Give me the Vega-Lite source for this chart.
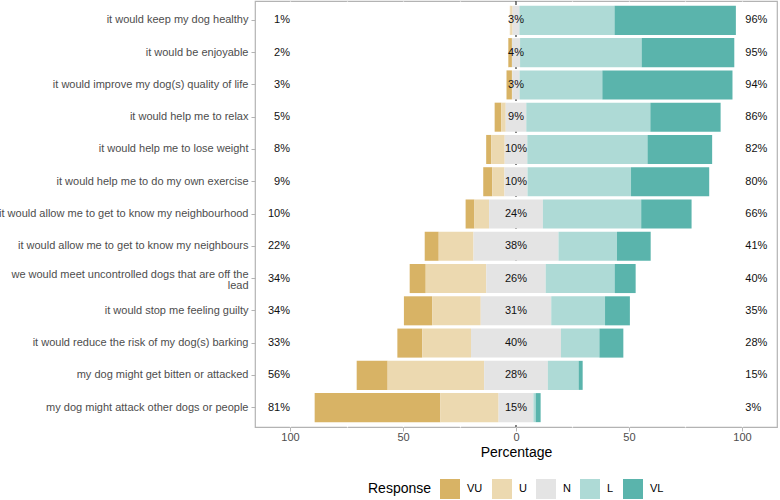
{
  "$schema": "https://vega.github.io/schema/vega-lite/v6.json",
  "width": 522,
  "height": 426,
  "autosize": {"type": "none"},
  "padding": {"left": 255, "top": 1, "right": 3, "bottom": 73},
  "background": "white",
  "data": {
    "values": [
      {"item": "it would keep my dog healthy", "response": "VU", "pct": 0.2},
      {"item": "it would keep my dog healthy", "response": "U", "pct": 1.0},
      {"item": "it would keep my dog healthy", "response": "N", "pct": 3.0},
      {"item": "it would keep my dog healthy", "response": "L", "pct": 42.1},
      {"item": "it would keep my dog healthy", "response": "VL", "pct": 53.7},
      {"item": "it would be enjoyable", "response": "VU", "pct": 1.6},
      {"item": "it would be enjoyable", "response": "U", "pct": 0.0},
      {"item": "it would be enjoyable", "response": "N", "pct": 3.6},
      {"item": "it would be enjoyable", "response": "L", "pct": 53.8},
      {"item": "it would be enjoyable", "response": "VL", "pct": 41.0},
      {"item": "it would improve my dog(s) quality of life", "response": "VU", "pct": 2.4},
      {"item": "it would improve my dog(s) quality of life", "response": "U", "pct": 0.2},
      {"item": "it would improve my dog(s) quality of life", "response": "N", "pct": 3.2},
      {"item": "it would improve my dog(s) quality of life", "response": "L", "pct": 36.6},
      {"item": "it would improve my dog(s) quality of life", "response": "VL", "pct": 57.6},
      {"item": "it would help me to relax", "response": "VU", "pct": 2.9},
      {"item": "it would help me to relax", "response": "U", "pct": 2.0},
      {"item": "it would help me to relax", "response": "N", "pct": 9.1},
      {"item": "it would help me to relax", "response": "L", "pct": 54.9},
      {"item": "it would help me to relax", "response": "VL", "pct": 31.1},
      {"item": "it would help me to lose weight", "response": "VU", "pct": 2.2},
      {"item": "it would help me to lose weight", "response": "U", "pct": 6.0},
      {"item": "it would help me to lose weight", "response": "N", "pct": 10.0},
      {"item": "it would help me to lose weight", "response": "L", "pct": 53.2},
      {"item": "it would help me to lose weight", "response": "VL", "pct": 28.6},
      {"item": "it would help me to do my own exercise", "response": "VU", "pct": 4.0},
      {"item": "it would help me to do my own exercise", "response": "U", "pct": 5.4},
      {"item": "it would help me to do my own exercise", "response": "N", "pct": 10.2},
      {"item": "it would help me to do my own exercise", "response": "L", "pct": 45.8},
      {"item": "it would help me to do my own exercise", "response": "VL", "pct": 34.6},
      {"item": "it would allow me to get to know my neighbourhood", "response": "VU", "pct": 3.9},
      {"item": "it would allow me to get to know my neighbourhood", "response": "U", "pct": 6.5},
      {"item": "it would allow me to get to know my neighbourhood", "response": "N", "pct": 23.8},
      {"item": "it would allow me to get to know my neighbourhood", "response": "L", "pct": 43.5},
      {"item": "it would allow me to get to know my neighbourhood", "response": "VL", "pct": 22.3},
      {"item": "it would allow me to get to know my neighbours", "response": "VU", "pct": 6.2},
      {"item": "it would allow me to get to know my neighbours", "response": "U", "pct": 15.4},
      {"item": "it would allow me to get to know my neighbours", "response": "N", "pct": 37.6},
      {"item": "it would allow me to get to know my neighbours", "response": "L", "pct": 25.9},
      {"item": "it would allow me to get to know my neighbours", "response": "VL", "pct": 14.9},
      {"item": "we would meet uncontrolled dogs that are off the lead", "response": "VU", "pct": 7.1},
      {"item": "we would meet uncontrolled dogs that are off the lead", "response": "U", "pct": 26.8},
      {"item": "we would meet uncontrolled dogs that are off the lead", "response": "N", "pct": 26.3},
      {"item": "we would meet uncontrolled dogs that are off the lead", "response": "L", "pct": 30.5},
      {"item": "we would meet uncontrolled dogs that are off the lead", "response": "VL", "pct": 9.3},
      {"item": "it would stop me feeling guilty", "response": "VU", "pct": 12.5},
      {"item": "it would stop me feeling guilty", "response": "U", "pct": 21.5},
      {"item": "it would stop me feeling guilty", "response": "N", "pct": 31.2},
      {"item": "it would stop me feeling guilty", "response": "L", "pct": 23.8},
      {"item": "it would stop me feeling guilty", "response": "VL", "pct": 11.0},
      {"item": "it would reduce the risk of my dog(s) barking", "response": "VU", "pct": 11.0},
      {"item": "it would reduce the risk of my dog(s) barking", "response": "U", "pct": 21.6},
      {"item": "it would reduce the risk of my dog(s) barking", "response": "N", "pct": 39.8},
      {"item": "it would reduce the risk of my dog(s) barking", "response": "L", "pct": 17.0},
      {"item": "it would reduce the risk of my dog(s) barking", "response": "VL", "pct": 10.6},
      {"item": "my dog might get bitten or attacked", "response": "VU", "pct": 13.7},
      {"item": "my dog might get bitten or attacked", "response": "U", "pct": 42.7},
      {"item": "my dog might get bitten or attacked", "response": "N", "pct": 28.2},
      {"item": "my dog might get bitten or attacked", "response": "L", "pct": 13.6},
      {"item": "my dog might get bitten or attacked", "response": "VL", "pct": 1.8},
      {"item": "my dog might attack other dogs or people", "response": "VU", "pct": 55.6},
      {"item": "my dog might attack other dogs or people", "response": "U", "pct": 25.8},
      {"item": "my dog might attack other dogs or people", "response": "N", "pct": 15.4},
      {"item": "my dog might attack other dogs or people", "response": "L", "pct": 1.0},
      {"item": "my dog might attack other dogs or people", "response": "VL", "pct": 2.2}
    ]
  },
  "encoding": {
    "y": {
      "field": "item",
      "type": "nominal",
      "sort": null,
      "title": null,
      "scale": {"paddingInner": 0.1, "paddingOuter": 0.15},
      "axis": {
        "domain": false,
        "grid": false,
        "ticks": true,
        "tickColor": "#b3b3b3",
        "tickSize": 4,
        "labelPadding": 3,
        "labelFontSize": 11,
        "labelColor": "#4d4d4d",
        "labelLimit": 400,
        "labelLineHeight": 11,
        "labelOffset": {"condition": {"test": "datum.value == 'we would meet uncontrolled dogs that are off the lead'", "value": -3.5}, "value": 0},
        "labelExpr": "datum.label == 'we would meet uncontrolled dogs that are off the lead' ? ['we would meet uncontrolled dogs that are off the', 'lead'] : datum.label"
      }
    }
  },
  "layer": [
    {
      "data": {"values": [{"ref": 0}]},
      "mark": {"type": "rule", "color": "#333333", "strokeWidth": 1.2, "strokeDash": [4, 4]},
      "encoding": {
        "x": {"field": "ref", "type": "quantitative"},
        "y": null
      }
    },
    {
      "transform": [
        {"calculate": "indexof(['VU','U','N','L','VL'], datum.response)", "as": "ord"},
        {"calculate": "datum.ord < 2 ? datum.pct : (datum.ord == 2 ? datum.pct / 2 : 0)", "as": "leftpart"},
        {"joinaggregate": [{"op": "sum", "field": "leftpart", "as": "offset"}], "groupby": ["item"]},
        {"stack": "pct", "groupby": ["item"], "sort": [{"field": "ord", "order": "ascending"}], "as": ["s0", "s1"]},
        {"calculate": "datum.s0 - datum.offset", "as": "x0"},
        {"calculate": "datum.s1 - datum.offset", "as": "x1"}
      ],
      "mark": {"type": "bar"},
      "encoding": {
        "x": {
          "field": "x0",
          "type": "quantitative",
          "title": "Percentage",
          "scale": {"domain": [-115.5, 115.5], "nice": false, "zero": false},
          "axis": {
            "values": [-100, -75, -50, -25, 0, 25, 50, 75, 100],
            "labelExpr": "datum.value % 50 == 0 ? format(abs(datum.value), 'd') : ''",
            "domain": false,
            "grid": true,
            "gridColor": "white",
            "gridWidth": 1.2,
            "tickColor": "#b3b3b3",
            "tickSize": 4,
            "tickOpacity": {"condition": {"test": "datum.value % 50 != 0", "value": 0}, "value": 1},
            "labelFontSize": 11,
            "labelColor": "#4d4d4d",
            "labelPadding": 0,
            "titleFontSize": 14,
            "titleFontWeight": "normal",
            "titleColor": "black",
            "titlePadding": 3
          }
        },
        "x2": {"field": "x1"},
        "color": {
          "field": "response",
          "type": "nominal",
          "title": "Response",
          "sort": ["VU", "U", "N", "L", "VL"],
          "scale": {
            "domain": ["VU", "U", "N", "L", "VL"],
            "range": ["#d8b365", "#ecd9b0", "#e4e4e4", "#aedad6", "#5ab4ac"]
          },
          "legend": {
            "orient": "bottom",
            "direction": "horizontal",
            "titleOrient": "left",
            "offset": 20
          }
        }
      }
    },
    {
      "transform": [
        {"calculate": "indexof(['VU','U','N','L','VL'], datum.response)", "as": "ord"},
        {"calculate": "datum.ord < 2 ? datum.pct : 0", "as": "lo"},
        {"calculate": "datum.ord == 2 ? datum.pct : 0", "as": "ne"},
        {"calculate": "datum.ord > 2 ? datum.pct : 0", "as": "hi"},
        {"aggregate": [
          {"op": "sum", "field": "lo", "as": "low"},
          {"op": "sum", "field": "ne", "as": "neutral"},
          {"op": "sum", "field": "hi", "as": "high"}
        ], "groupby": ["item"]},
        {"calculate": "round(datum.low) + '%'", "as": "lowlab"},
        {"calculate": "round(datum.neutral) + '%'", "as": "neulab"},
        {"calculate": "round(datum.high) + '%'", "as": "highlab"}
      ],
      "layer": [
        {
          "mark": {"type": "text", "align": "right", "fontSize": 11, "color": "#111111"},
          "encoding": {
            "x": {"datum": -100, "type": "quantitative"},
            "text": {"field": "lowlab"}
          }
        },
        {
          "mark": {"type": "text", "align": "center", "fontSize": 11, "color": "#111111"},
          "encoding": {
            "x": {"datum": 0, "type": "quantitative"},
            "text": {"field": "neulab"}
          }
        },
        {
          "mark": {"type": "text", "align": "left", "fontSize": 11, "color": "#111111"},
          "encoding": {
            "x": {"datum": 101.5, "type": "quantitative"},
            "text": {"field": "highlab"}
          }
        }
      ]
    }
  ],
  "config": {
    "font": "Liberation Sans",
    "view": {"stroke": "#b3b3b3", "strokeWidth": 1.2},
    "legend": {
      "layout": {"bottom": {"anchor": "middle"}},
      "titleFontSize": 14,
      "titleFontWeight": "normal",
      "titleColor": "black",
      "titlePadding": 8,
      "labelFontSize": 11,
      "labelColor": "black",
      "labelOffset": 7,
      "columnPadding": 9,
      "symbolType": "square",
      "symbolSize": 400,
      "symbolStrokeWidth": 0,
      "symbolOpacity": 1
    }
  }
}
